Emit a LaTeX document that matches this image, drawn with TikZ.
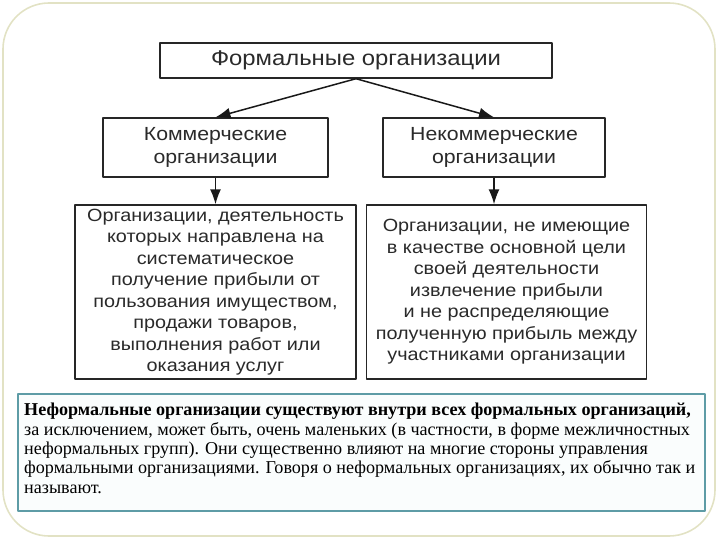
\documentclass[tikz,border=0pt]{standalone}
\usepackage{fontspec}
\setmainfont{Liberation Serif}
\newfontfamily\diagfont[FakeStretch=1.12]{Liberation Sans}
\usetikzlibrary{arrows.meta}
\definecolor{frameline}{HTML}{E2E2C4}
\definecolor{noteline}{HTML}{5E9CA6}
\definecolor{notefill}{HTML}{FAFDFD}
\definecolor{ink}{HTML}{2A2A2A}
\tikzset{
  orgbox/.style={draw=black!85,line width=1.4pt,fill=white,text=ink,align=center,inner sep=2pt},
  orgarrow/.style={-{Latex[length=15pt,width=11pt]},line width=1.5pt,draw=black!90}
}
\begin{document}
\begin{tikzpicture}[x=1pt,y=-1pt,line join=round]
	\useasboundingbox (0,0) rectangle (720,540);
	\draw[frameline,line width=1.6pt,rounded corners=46pt] (3,3) rectangle (715,536);
	\node[orgbox,minimum width=392pt,minimum height=35pt,font=\diagfont\fontsize{21.3}{24}\selectfont] (formal) at (356,60.5) {Формальные организации};
	\node[orgbox,minimum width=225pt,minimum height=59pt,font=\diagfont\fontsize{19}{23}\selectfont] (kom) at (215.5,147.5) {Коммерческие\\организации};
	\node[orgbox,minimum width=222pt,minimum height=59pt,font=\diagfont\fontsize{19}{23}\selectfont] (nekom) at (494,147.5) {Некоммерческие\\организации};
	\node[orgbox,minimum width=281pt,minimum height=174pt,font=\diagfont\fontsize{17.7}{21.5}\selectfont] (komd) at (215.5,292) {Организации, деятельность\\которых направлена на\\систематическое\\получение прибыли от\\пользования имуществом,\\продажи товаров,\\выполнения работ или\\оказания услуг};
	\node[orgbox,minimum width=280pt,minimum height=174pt,font=\diagfont\fontsize{17.7}{21.5}\selectfont] (nekomd) at (506.5,292) {Организации, не имеющие\\в качестве основной цели\\своей деятельности\\извлечение прибыли\\и не распределяющие\\полученную прибыль между\\участниками организации};
	\draw[orgarrow] (formal.south) -- (kom.north);
	\draw[orgarrow] (formal.south) -- (nekom.north);
	\draw[orgarrow] (kom.south) -- (kom.south |- komd.north);
	\draw[orgarrow] (nekom.south) -- (nekom.south |- nekomd.north);
	\node[draw=noteline,line width=2pt,fill=notefill,anchor=north west,minimum width=687pt,minimum height=117pt] (note) at (17,393) {};
	\node[anchor=north west,align=left,inner sep=0pt,text=black,font=\fontsize{18.1}{19.4}\selectfont] (notetext) at ([xshift=7pt,yshift=-10pt]note.north west) {\textbf{Неформальные организации существуют внутри всех формальных организаций,}\\за исключением, может быть, очень маленьких (в частности, в форме межличностных\\неформальных групп). Они существенно влияют на многие стороны управления\\формальными организациями. Говоря о неформальных организациях, их обычно так и\\называют.};
\end{tikzpicture}
\end{document}
